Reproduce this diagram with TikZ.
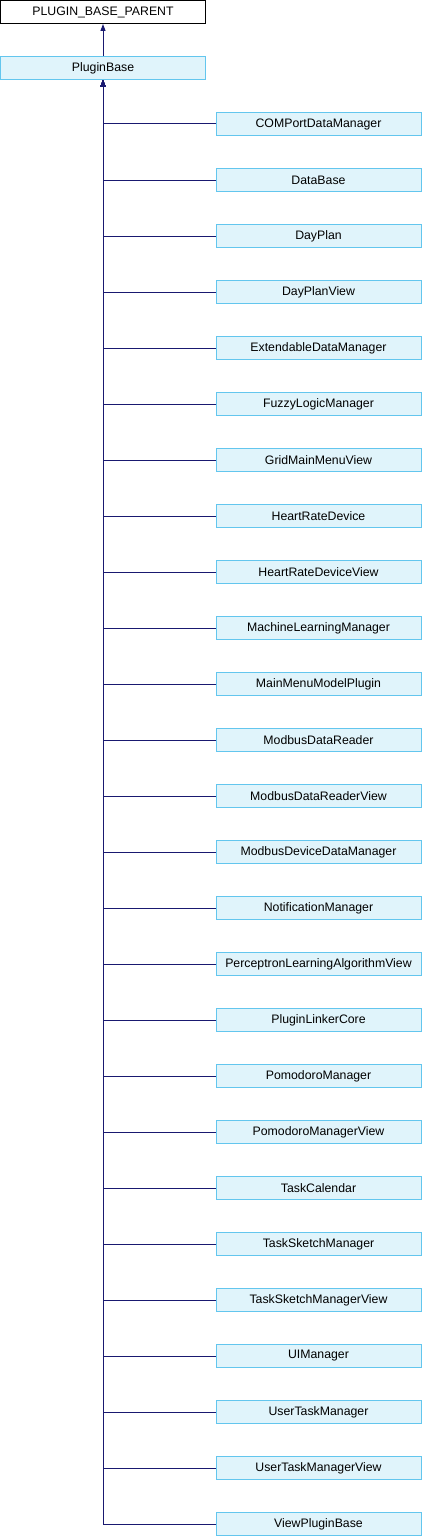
\documentclass[tikz,border=0pt]{standalone}
\usepackage{fontspec}
\setmainfont{Liberation Sans}
\usetikzlibrary{arrows.meta}
\definecolor{edgeblue}{RGB}{25,25,112}
\definecolor{boxfill}{RGB}{224,244,251}
\definecolor{boxline}{RGB}{99,198,238}
\tikzset{
  cls/.style={draw=boxline, fill=boxfill, line width=1pt, minimum width=205pt, minimum height=23pt, inner sep=0pt, font=\fontsize{12.3pt}{14pt}\selectfont, anchor=center},
  topcls/.style={cls, draw=black, fill=white},
  edge/.style={draw=edgeblue, line width=1pt, {Triangle[length=7pt,width=5pt]}-}
}
\begin{document}
\begin{tikzpicture}[x=1pt,y=-1pt]
\useasboundingbox (0,0) rectangle (422,1536);
\node[topcls] (parent) at (103,12) {PLUGIN\_BASE\_PARENT};
\node[cls] (pb) at (103,68) {PluginBase};
\draw[edge] (parent.south) -- (pb.north);
\foreach \n [count=\i from 0] in {COMPortDataManager,DataBase,DayPlan,DayPlanView,ExtendableDataManager,FuzzyLogicManager,GridMainMenuView,HeartRateDevice,HeartRateDeviceView,MachineLearningManager,MainMenuModelPlugin,ModbusDataReader,ModbusDataReaderView,ModbusDeviceDataManager,NotificationManager,PerceptronLearningAlgorithmView,PluginLinkerCore,PomodoroManager,PomodoroManagerView,TaskCalendar,TaskSketchManager,TaskSketchManagerView,UIManager,UserTaskManager,UserTaskManagerView,ViewPluginBase}{
  \node[cls] (c\i) at (318.5,{124+56*\i}) {\n};
  \draw[edge] (pb.south) |- (c\i.west);
}
\end{tikzpicture}
\end{document}
